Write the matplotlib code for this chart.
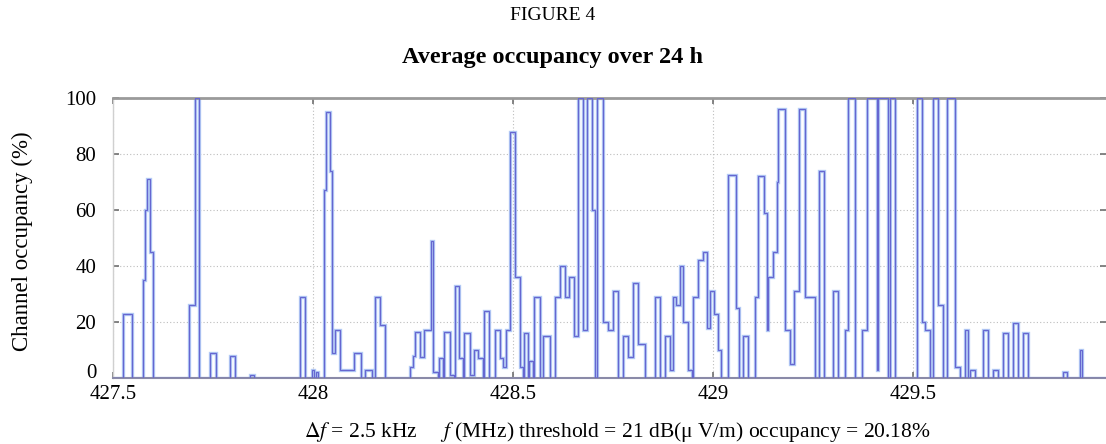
import matplotlib
matplotlib.use("Agg")
import matplotlib.pyplot as plt
import matplotlib.transforms as mtransforms
import numpy as np

plt.rcParams['font.family'] = ['Liberation Serif', 'DejaVu Serif']
plt.rcParams['mathtext.fontset'] = 'stix'

# Occupied frequency ranges (MHz) and their average occupancy (%); elsewhere 0 %
seg_start_mhz = [427.525, 427.575, 427.580, 427.585, 427.5925, 427.690, 427.705, 427.7425, 427.7925, 427.8425,
                 427.9675, 427.9975, 428.0075, 428.0275, 428.0325, 428.0425, 428.0475, 428.055, 428.0675, 428.1025,
                 428.130, 428.155, 428.1675, 428.2425, 428.250, 428.255, 428.2675, 428.2775, 428.295, 428.300,
                 428.315, 428.3275, 428.3425, 428.355, 428.365, 428.3775, 428.3925, 428.4025, 428.4125, 428.4275,
                 428.455, 428.4675, 428.475, 428.4825, 428.4925, 428.505, 428.5175, 428.5275, 428.540, 428.5525,
                 428.575, 428.605, 428.6175, 428.630, 428.640, 428.6525, 428.6625, 428.675, 428.685, 428.6975,
                 428.710, 428.725, 428.7375, 428.750, 428.775, 428.7875, 428.800, 428.8125, 428.855, 428.880,
                 428.8925, 428.900, 428.9075, 428.9175, 428.925, 428.9375, 428.950, 428.9625, 428.975, 428.985,
                 428.9925, 429.0025, 429.0125, 429.0375, 429.0575, 429.075, 429.105, 429.1125, 429.1275, 429.135,
                 429.1375, 429.150, 429.160, 429.1625, 429.180, 429.1925, 429.2025, 429.215, 429.230, 429.265,
                 429.300, 429.330, 429.3375, 429.3725, 429.385, 429.410, 429.4125, 429.4425, 429.510, 429.5225,
                 429.530, 429.550, 429.5625, 429.585, 429.605, 429.630, 429.6425, 429.675, 429.700, 429.725,
                 429.750, 429.775, 429.875, 429.9175]
seg_end_mhz = [427.5475, 427.580, 427.585, 427.5925, 427.600, 427.705, 427.715, 427.7575, 427.805, 427.8525,
               427.980, 428.0025, 428.0125, 428.0325, 428.0425, 428.0475, 428.055, 428.0675, 428.1025, 428.120,
               428.1475, 428.1675, 428.180, 428.250, 428.255, 428.2675, 428.2775, 428.295, 428.300, 428.3125,
               428.325, 428.3425, 428.3525, 428.365, 428.375, 428.3925, 428.4025, 428.4125, 428.425, 428.440,
               428.4675, 428.475, 428.4825, 428.4925, 428.505, 428.5175, 428.525, 428.5375, 428.550, 428.5675,
               428.5925, 428.6175, 428.630, 428.640, 428.6525, 428.6625, 428.675, 428.685, 428.6975, 428.705,
               428.725, 428.7375, 428.750, 428.7625, 428.7875, 428.800, 428.8125, 428.830, 428.8675, 428.8925,
               428.900, 428.9075, 428.9175, 428.925, 428.9375, 428.9475, 428.9625, 428.975, 428.985, 428.9925,
               429.0025, 429.0125, 429.020, 429.0575, 429.065, 429.0875, 429.1125, 429.1275, 429.135, 429.1375,
               429.150, 429.160, 429.1625, 429.180, 429.1925, 429.2025, 429.215, 429.230, 429.255, 429.2775,
               429.3125, 429.3375, 429.355, 429.385, 429.410, 429.4125, 429.4375, 429.455, 429.5225, 429.530,
               429.5425, 429.5625, 429.575, 429.605, 429.6175, 429.6375, 429.655, 429.6875, 429.7125, 429.7375,
               429.7625, 429.7875, 429.885, 429.9225]
seg_occupancy_pct = [23, 35, 60, 71, 45, 26, 100, 9, 8, 1,
                     29, 3, 2, 67, 95, 74, 9, 17, 3, 9,
                     3, 29, 19, 4, 8, 16.5, 7.5, 17, 49, 2,
                     7, 16.5, 1, 33, 7, 16, 1, 10, 7, 24,
                     17, 7, 4, 17, 88, 36, 4, 16, 6, 29,
                     15, 29, 40, 29, 36, 15, 100, 17, 100, 60,
                     100, 20, 17, 31, 15, 7.5, 34, 12, 29, 15,
                     3, 29, 26, 40, 20, 3, 29, 42, 45, 18,
                     31, 23, 10, 72.5, 25, 15, 29, 72, 59, 17,
                     36, 45, 70, 96, 17, 5, 31, 96, 29, 74,
                     31, 17, 100, 17, 100, 3, 100, 100, 100, 20,
                     17, 100, 26, 100, 4, 17, 3, 17, 3, 16,
                     19.5, 16, 2, 10]

x_ticks = [427.5, 428, 428.5, 429, 429.5]
x_tick_labels = ['427.5', '428', '428.5', '429', '429.5']
y_ticks = [0, 20, 40, 60, 80, 100]
y_tick_labels = ['0', '20', '40', '60', '80', '100']

f_min, f_max = 427.5, 429.9825

# build step edges with zero occupancy between listed ranges
edges = [f_min]
vals = []
for s, e, v in zip(seg_start_mhz, seg_end_mhz, seg_occupancy_pct):
    if s > edges[-1] + 1e-9:
        vals.append(0.0)
        edges.append(s)
    vals.append(v)
    edges.append(e)
if edges[-1] < f_max:
    vals.append(0.0)
    edges.append(f_max)

W, H = 1106, 444
fig = plt.figure(figsize=(W / 100, H / 100), dpi=100)
ax = fig.add_axes([113 / W, 1 - 378 / H, (W - 113) / W, 280 / H])

ax.stairs(vals, edges, color='#b3cbf5', lw=2.4, zorder=2)
ax.stairs(vals, edges, color='#6666d0', lw=0.9, zorder=3)

ax.set_xlim(f_min, f_max)
ax.set_ylim(0, 100)
ax.set_xticks(x_ticks)
ax.set_xticklabels(x_tick_labels)
ax.set_yticks(y_ticks)
ax.set_yticklabels(y_tick_labels)
ax.grid(True, linestyle=(0, (1, 2)), color='#bdbdbd', lw=0.8, zorder=1)
ax.tick_params(direction='in', top=True, right=True, length=4, width=1.2,
               color='#707070', labelsize=15)
ax.tick_params(axis='x', pad=5)
ax.tick_params(axis='y', pad=12)

# lift the "0" label slightly, as in the reference
zero_lbl = ax.get_yticklabels()[0]
zero_lbl.set_transform(zero_lbl.get_transform() +
                       mtransforms.ScaledTranslation(0, 5 / 72, fig.dpi_scale_trans))

ax.spines['top'].set_color('#9a9a9a')
ax.spines['top'].set_linewidth(2)
ax.spines['left'].set_color('#d0d0d0')
ax.spines['left'].set_linewidth(1)
ax.spines['right'].set_visible(False)
ax.spines['bottom'].set_color('#8a8aa8')
ax.spines['bottom'].set_linewidth(1.5)

fig.text(0.5, 1 - 15 / H, 'FIGURE 4', ha='center', va='center', fontsize=14)
fig.text(0.5, 1 - 58 / H, 'Average occupancy over 24 h', ha='center', va='center',
         fontsize=17.5, fontweight='bold')
fig.text(22 / W, 1 - 241 / H, 'Channel occupancy (%)', rotation=90, ha='center',
         va='center', fontsize=16.5)
fig.text(617 / W, 1 - 432 / H,
         r'$\Delta \mathit{f}$ = 2.5 kHz     $\mathit{f}$ (MHz) threshold = 21 dB(μ V/m) occupancy = 20.18%',
         ha='center', va='center', fontsize=15.5)

fig.savefig('out.png', dpi=100)
